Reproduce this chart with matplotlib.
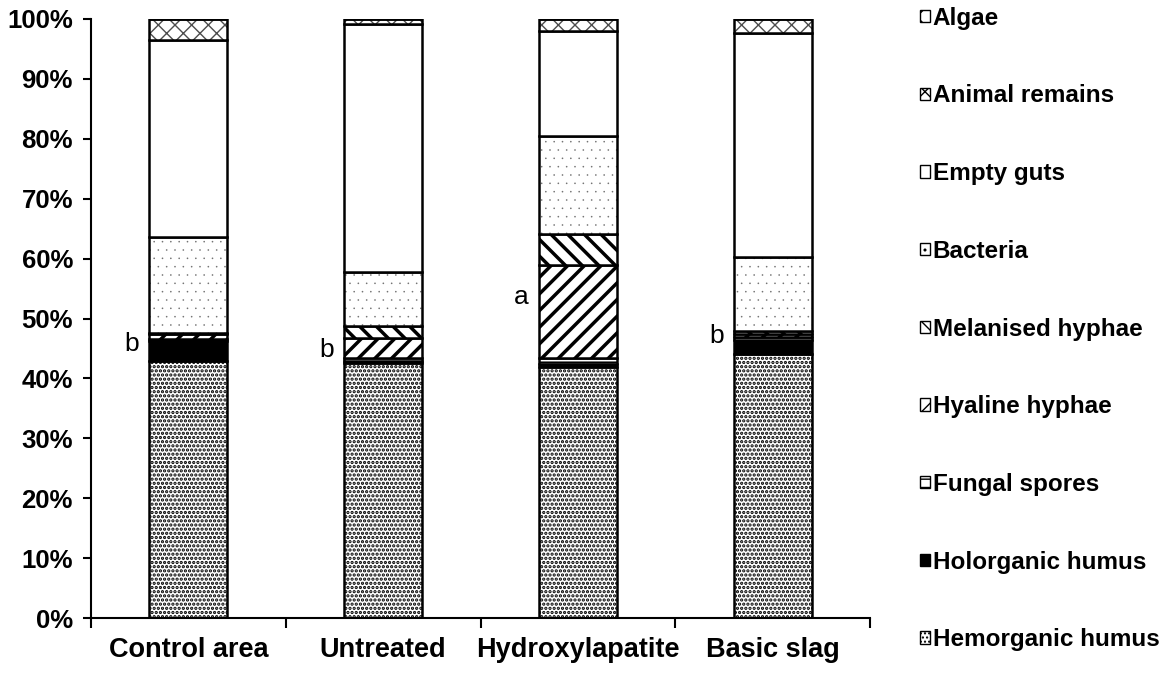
import numpy as np
import matplotlib
matplotlib.use("Agg")
import matplotlib.pyplot as plt
from matplotlib.patches import Patch

plt.rcParams["font.family"] = ["Liberation Sans", "DejaVu Sans"]

categories = ["Control area", "Untreated", "Hydroxylapatite", "Basic slag"]

# stacked from bottom to top, values in %
components = [
    "Hemorganic humus", "Holorganic humus", "Fungal spores", "Hyaline hyphae",
    "Melanised hyphae", "Bacteria", "Empty guts", "Animal remains", "Algae",
]
hemorganic = [42.9, 42.6, 41.9, 44.1]
holorganic = [3.3, 0.3, 0.5, 2.3]
fungal_spores = [0.3, 0.5, 1.0, 0.5]
hyaline = [0.9, 3.3, 15.5, 0.5]
melanised = [0.2, 2.0, 5.2, 0.5]
bacteria = [16.0, 9.1, 16.4, 12.4]
empty_guts = [32.9, 41.4, 17.5, 37.4]
animal_remains = [3.5, 0.8, 2.0, 2.3]
algae = [0.0, 0.0, 0.0, 0.0]

letters = ["b", "b", "a", "b"]
letter_y = [45.7, 44.7, 53.6, 47.1]

series = [hemorganic, holorganic, fungal_spores, hyaline, melanised,
          bacteria, empty_guts, animal_remains, algae]
# facecolor, hatch, hatch colour, hatch line width
styles = [
    ("white", "....", "black", 1.6),
    ("black", None, "black", 1.0),
    ("white", "--", "black", 1.5),
    ("white", "//", "black", 2.5),
    ("white", "\\\\", "black", 2.5),
    ("white", "..", "0.45", 0.0),
    ("white", None, "black", 1.0),
    ("white", "xx", "0.3", 1.0),
    ("white", "x", "black", 1.0),
]

fig = plt.figure(figsize=(11.76, 6.79), dpi=100)
ax = fig.add_axes([91 / 1176, 1 - 618 / 679, (870 - 91) / 1176, (618 - 19) / 679])

x = np.arange(len(categories))
bottom = np.zeros(len(categories))
for name, vals, (fc, hatch, hc, hlw) in zip(components, series, styles):
    vals = np.array(vals)
    with plt.rc_context({"hatch.linewidth": hlw}):
        ax.bar(x, vals, 0.4, bottom=bottom, facecolor=fc, edgecolor=hc,
               linewidth=0, hatch=hatch)
    ax.bar(x, vals, 0.4, bottom=bottom, fill=False, edgecolor="black",
           linewidth=1.8)
    bottom += vals

for i, (t, yv) in enumerate(zip(letters, letter_y)):
    ax.text(i - 0.29, yv, t, ha="center", va="center", fontsize=19)

ax.set_xlim(-0.5, len(categories) - 0.5)
ax.set_ylim(0, 100)
ax.set_yticks(np.arange(0, 101, 10))
ax.set_yticklabels([f"{v}%" for v in range(0, 101, 10)], fontsize=18.5,
                   fontweight="bold")
ax.set_xticks(x)
ax.set_xticklabels(categories, fontsize=19.5, fontweight="bold")
ax.set_xticks(np.arange(-0.5, len(categories)), minor=True)
ax.tick_params(axis="x", which="major", length=0, pad=14)
ax.tick_params(axis="x", which="minor", length=7, width=1.5, direction="out")
ax.tick_params(axis="y", length=6, width=1.5, direction="out", pad=7)
for s in ["top", "right"]:
    ax.spines[s].set_visible(False)
for s in ["left", "bottom"]:
    ax.spines[s].set_linewidth(1.5)

handles = []
for n, (fc, hatch, hc, hlw) in zip(components, styles):
    handles.append(Patch(facecolor=fc, hatch=hatch, edgecolor="black",
                         linewidth=1.0, label=n))
handles = handles[::-1]
fig.legend(handles=handles, loc="upper left", bbox_to_anchor=(920 / 1176, 0.99),
           frameon=False, prop=dict(size=17.5, weight="bold"), handlelength=0.4,
           handleheight=0.4, handletextpad=0.12, labelspacing=2.25,
           borderpad=0, borderaxespad=0)

fig.savefig("out.png", dpi=100)
